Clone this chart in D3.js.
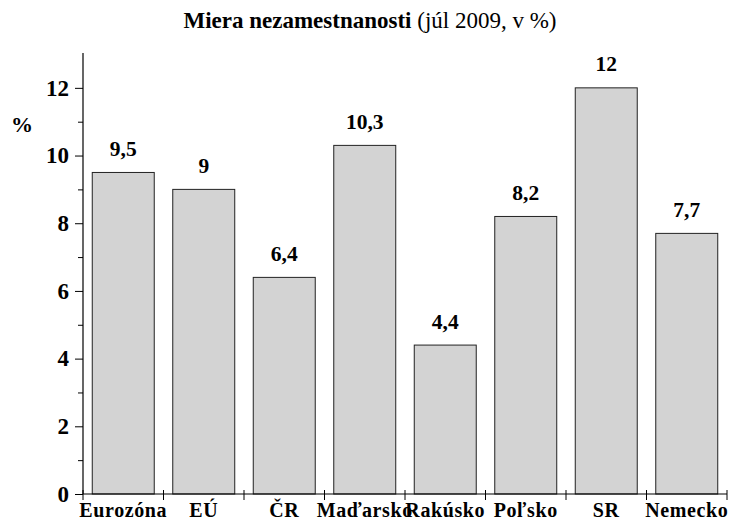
<!DOCTYPE html>
<html><head><meta charset="utf-8">
<script src="https://cdn.jsdelivr.net/npm/d3@7"></script>
<style>body{margin:0;background:#fff}svg{display:block}text{font-family:"Liberation Serif","Times New Roman",serif}</style>
</head><body>
<script>
const categories = ["Eurozóna","EÚ","ČR","Maďarsko","Rakúsko","Poľsko","SR","Nemecko"];
const values = [9.5, 9, 6.4, 10.3, 4.4, 8.2, 12, 7.7];
const valueLabels = ["9,5","9","6,4","10,3","4,4","8,2","12","7,7"];
const yTicks = [0,2,4,6,8,10,12];
const yMinorTicks = [1,3,5,7,9,11];

const W=729,H=520;
const svg=d3.select("body").append("svg").attr("width",W).attr("height",H);
const x=d3.scaleBand().domain(categories).range([83,727]).paddingInner(0.23).paddingOuter(0.115);
const y=d3.scaleLinear().domain([0,13]).range([494,54]);

// title
const t=svg.append("text").attr("x",370).attr("y",28).attr("text-anchor","middle").attr("font-size",23);
t.append("tspan").attr("font-weight","bold").text("Miera nezamestnanosti");
t.append("tspan").text(" (júl 2009, v %)");

// bars
svg.selectAll("rect.bar").data(values).join("rect")
  .attr("x",(d,i)=>x(categories[i])).attr("width",x.bandwidth())
  .attr("y",d=>y(d)).attr("height",d=>y(0)-y(d))
  .attr("fill","#d3d3d3").attr("stroke","#222").attr("stroke-width",1);

// value labels
svg.selectAll("text.val").data(values).join("text")
  .attr("x",(d,i)=>x(categories[i])+x.bandwidth()/2).attr("y",d=>y(d)-16.5)
  .attr("text-anchor","middle").attr("font-weight","bold").attr("font-size",21.5)
  .text((d,i)=>valueLabels[i]);

// y axis
const ya=svg.append("g").attr("transform","translate(83,0)")
  .call(d3.axisLeft(y).tickValues(yTicks).tickSize(8).tickPadding(6).tickFormat(d3.format("d")));
ya.select(".domain").remove();
ya.selectAll("text").attr("font-weight","bold").attr("font-size",23).attr("fill","#000");
ya.selectAll("line").attr("stroke","#000");
svg.append("g").attr("transform","translate(83,0)")
  .call(d3.axisLeft(y).tickValues(yMinorTicks).tickSize(5).tickFormat(""))
  .call(g=>g.select(".domain").remove()).selectAll("line").attr("stroke","#000");
svg.append("line").attr("x1",83).attr("x2",83).attr("y1",y(13)-1).attr("y2",y(0)).attr("stroke","#000").attr("stroke-width",1.2);

// x axis
svg.append("line").attr("x1",83).attr("x2",727).attr("y1",y(0)).attr("y2",y(0)).attr("stroke","#000").attr("stroke-width",1.2);
const bounds=categories.map((c,i)=>83+i*x.step()).concat([727]);
svg.selectAll("line.xt").data(bounds).join("line")
  .attr("x1",d=>d).attr("x2",d=>d).attr("y1",y(0)-4).attr("y2",y(0)+6).attr("stroke","#000");
svg.selectAll("text.cat").data(categories).join("text")
  .attr("x",d=>x(d)+x.bandwidth()/2).attr("y",517)
  .attr("text-anchor","middle").attr("font-weight","bold").attr("font-size",20).attr("letter-spacing",0.6)
  .text(d=>d);

svg.append("text").attr("x",22).attr("y",132).attr("text-anchor","middle").attr("font-weight","bold").attr("font-size",22).text("%");
</script>
</body></html>
